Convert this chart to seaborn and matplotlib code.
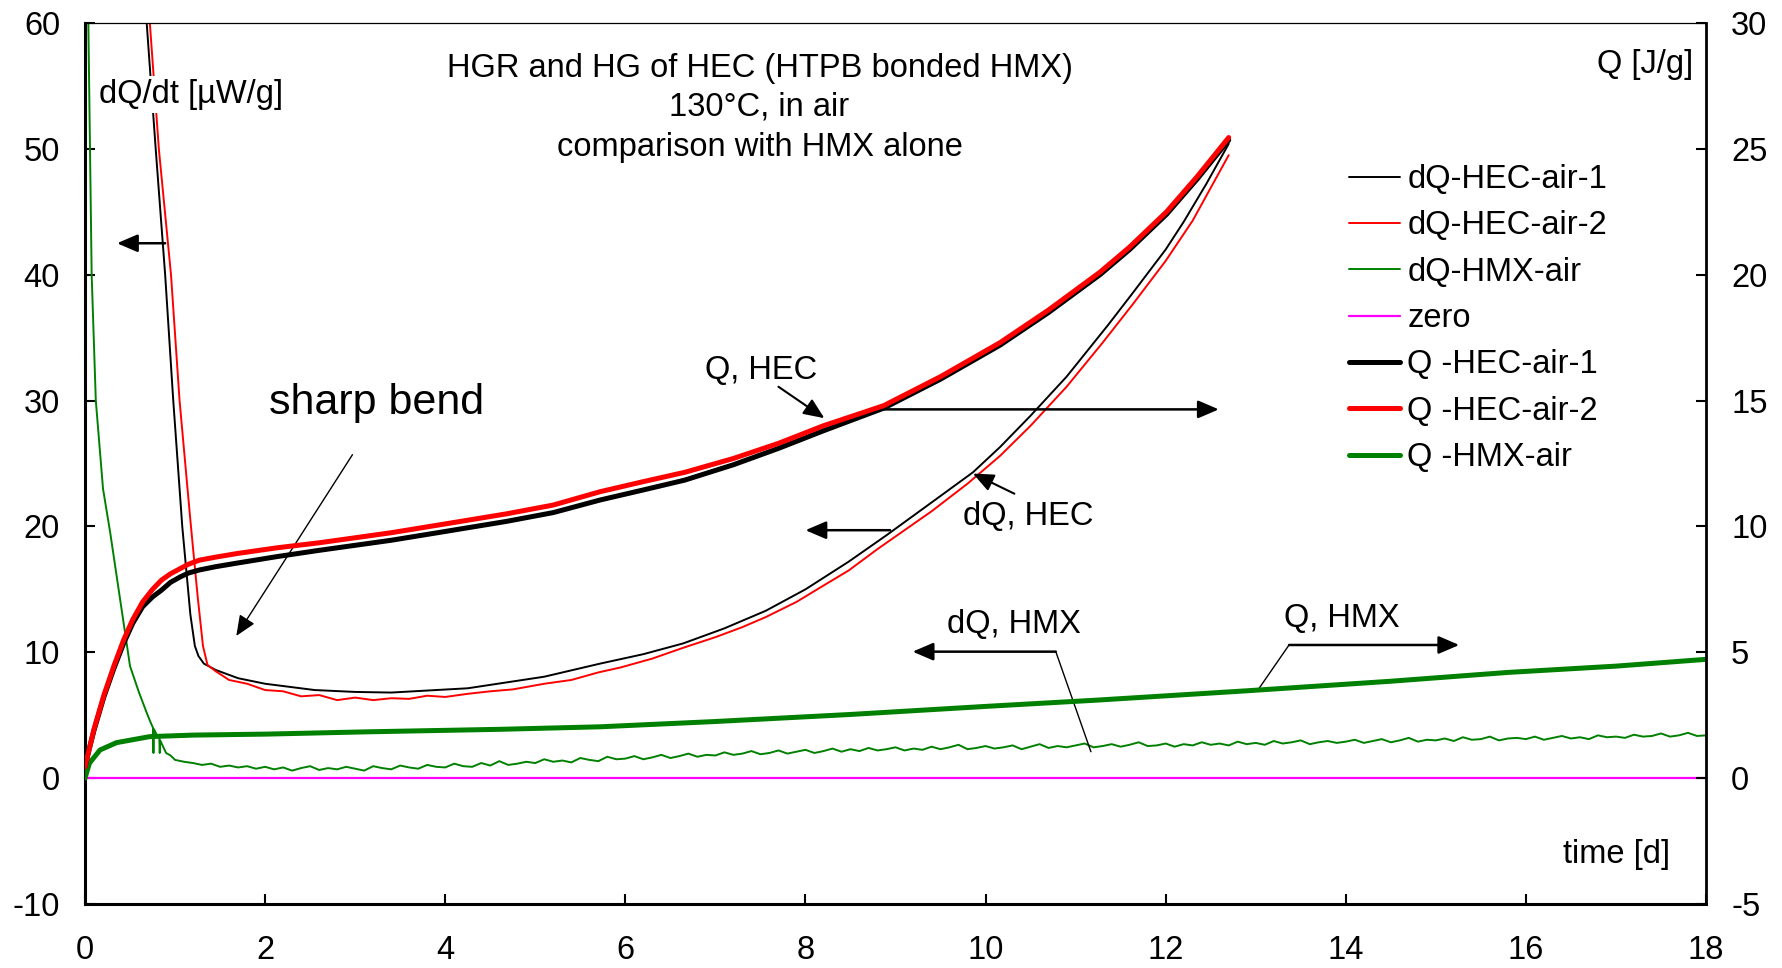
import matplotlib
matplotlib.use("Agg")
import matplotlib.pyplot as plt
import seaborn as sns
import pandas as pd

# ---------------- data ----------------
# dQ/dt of HEC sample 1 [µW/g]
t_dq_hec1 = [0.685, 0.785, 0.89, 0.98, 1.08, 1.17, 1.22, 1.26, 1.32, 1.45, 1.7, 2.0, 2.55, 3.0, 3.4,
             4.25, 5.1, 5.72, 6.2, 6.64, 7.1, 7.56, 8.0, 8.48, 8.9, 9.4, 9.86, 10.16, 10.5, 10.9,
             11.36, 11.64, 12.0, 12.2, 12.45, 12.7]
v_dq_hec1 = [60, 50, 40, 30, 20, 13, 10.5, 9.7, 9.1, 8.6, 7.94, 7.5, 7.0, 6.85, 6.8,
             7.14, 8.06, 9.1, 9.85, 10.7, 11.9, 13.3, 15.0, 17.2, 19.3, 21.9, 24.3, 26.3, 28.8, 31.9,
             36.0, 38.6, 42.0, 44.2, 47.2, 50.4]

# dQ/dt of HEC sample 2 [µW/g]
t_dq_hec2 = [0.72, 0.82, 0.955, 1.05, 1.17, 1.25, 1.31, 1.36, 1.45, 1.6, 1.8, 2.0, 2.2, 2.4, 2.6, 2.8,
             3.0, 3.2, 3.4, 3.6, 3.8, 4.0, 4.25, 4.5, 4.75, 5.1, 5.4, 5.7, 5.95, 6.3, 6.66, 7.0,
             7.3, 7.56, 7.9, 8.2, 8.48, 8.8, 9.1, 9.4, 9.8, 10.16, 10.5, 10.9, 11.3, 11.64, 12.0,
             12.3, 12.7]
v_dq_hec2 = [60, 50, 40, 30, 20.5, 14.5, 10.5, 9.0, 8.5, 7.8, 7.5, 7.0, 6.9, 6.5, 6.6, 6.2,
             6.4, 6.2, 6.35, 6.3, 6.55, 6.45, 6.7, 6.9, 7.05, 7.5, 7.8, 8.4, 8.8, 9.5, 10.4, 11.2,
             12.0, 12.8, 14.0, 15.3, 16.5, 18.2, 19.7, 21.2, 23.4, 25.6, 28.0, 31.1, 34.6, 37.7, 41.1,
             44.3, 49.5]

# dQ/dt of HMX alone [µW/g]
t_dq_hmx = [0.0, 0.037, 0.055, 0.074, 0.12, 0.2, 0.28, 0.39, 0.5, 0.6, 0.685, 0.73, 0.755, 0.76, 0.765,
            0.8, 0.825, 0.83, 0.835, 0.9, 0.95,
            1.0, 1.1, 1.2, 1.3, 1.4, 1.5, 1.6, 1.7, 1.8, 1.9,
            2.0, 2.1, 2.2, 2.3, 2.4, 2.5, 2.6, 2.7, 2.8, 2.9,
            3.0, 3.1, 3.2, 3.3, 3.4, 3.5, 3.6, 3.7, 3.8, 3.9,
            4.0, 4.1, 4.2, 4.3, 4.4, 4.5, 4.6, 4.7, 4.8, 4.9,
            5.0, 5.1, 5.2, 5.3, 5.4, 5.5, 5.6, 5.7, 5.8, 5.9,
            6.0, 6.1, 6.2, 6.3, 6.4, 6.5, 6.6, 6.7, 6.8, 6.9,
            7.0, 7.1, 7.2, 7.3, 7.4, 7.5, 7.6, 7.7, 7.8, 7.9,
            8.0, 8.1, 8.2, 8.3, 8.4, 8.5, 8.6, 8.7, 8.8, 8.9,
            9.0, 9.1, 9.2, 9.3, 9.4, 9.5, 9.6, 9.7, 9.8, 9.9,
            10.0, 10.1, 10.2, 10.3, 10.4, 10.5, 10.6, 10.7, 10.8, 10.9,
            11.0, 11.1, 11.2, 11.3, 11.4, 11.5, 11.6, 11.7, 11.8, 11.9,
            12.0, 12.1, 12.2, 12.3, 12.4, 12.5, 12.6, 12.7, 12.8, 12.9,
            13.0, 13.1, 13.2, 13.3, 13.4, 13.5, 13.6, 13.7, 13.8, 13.9,
            14.0, 14.1, 14.2, 14.3, 14.4, 14.5, 14.6, 14.7, 14.8, 14.9,
            15.0, 15.1, 15.2, 15.3, 15.4, 15.5, 15.6, 15.7, 15.8, 15.9,
            16.0, 16.1, 16.2, 16.3, 16.4, 16.5, 16.6, 16.7, 16.8, 16.9,
            17.0, 17.1, 17.2, 17.3, 17.4, 17.5, 17.6, 17.7, 17.8, 17.9,
            18.0]
v_dq_hmx = [80, 60, 50, 40, 30, 23, 19.5, 14.2, 8.9, 6.8, 5.2, 4.4, 4.0, 2.0, 3.9,
            3.4, 3.2, 2.0, 3.0, 2.0, 1.8,
            1.45, 1.3, 1.2, 1.05, 1.15, 0.9, 1.0, 0.85, 0.95, 0.75,
            0.9, 0.7, 0.85, 0.6, 0.8, 0.95, 0.65, 0.8, 0.7, 0.9,
            0.75, 0.6, 0.95, 0.8, 0.7, 1.0, 0.85, 0.75, 1.05, 0.9,
            0.85, 1.15, 0.95, 0.9, 1.2, 1.0, 1.35, 1.05, 1.15, 1.3,
            1.2, 1.5, 1.3, 1.4, 1.25, 1.6, 1.45, 1.35, 1.7, 1.5,
            1.55, 1.75, 1.5, 1.65, 1.85, 1.6, 1.75, 1.95, 1.7, 1.85,
            1.8, 2.05, 1.85, 1.95, 2.15, 1.9, 2.0, 2.2, 1.95, 2.1,
            2.25, 2.0, 2.15, 2.35, 2.1, 2.3, 2.15, 2.4, 2.2, 2.3,
            2.45, 2.2, 2.35, 2.25, 2.5, 2.3, 2.45, 2.65, 2.3, 2.4,
            2.55, 2.35, 2.45, 2.6, 2.3, 2.5, 2.7, 2.4, 2.55, 2.45,
            2.6, 2.75, 2.45, 2.55, 2.7, 2.5, 2.65, 2.85, 2.55, 2.6,
            2.75, 2.5, 2.7, 2.6, 2.85, 2.65, 2.75, 2.6, 2.9, 2.7,
            2.8, 2.65, 2.95, 2.75, 2.85, 3.0, 2.7, 2.85, 2.95, 2.8,
            2.9, 3.05, 2.8, 2.95, 3.1, 2.85, 3.0, 3.2, 2.9, 3.05,
            3.0, 3.15, 2.95, 3.25, 3.05, 3.1, 3.3, 3.0, 3.15, 3.2,
            3.1, 3.3, 3.05, 3.2, 3.35, 3.15, 3.25, 3.1, 3.4, 3.25,
            3.3, 3.2, 3.45, 3.3, 3.35, 3.55, 3.3, 3.4, 3.6, 3.35,
            3.4]

# zero line
t_zero = [0, 18]
v_zero = [0, 0]

# Q (heat generation) [J/g], right axis
t_q_hec = [0, 0.05, 0.1, 0.21, 0.32, 0.43, 0.53, 0.64, 0.75, 0.85, 0.95, 1.06, 1.15, 1.27, 1.45,
           1.7, 2.13, 2.6, 3.4, 4.0, 4.68, 5.2, 5.72, 6.2, 6.66, 7.2, 7.7, 8.2, 8.87, 9.5, 10.16,
           10.7, 11.27, 11.6, 12.01, 12.35, 12.7]
q_q_hec1 = [0.45, 1.2, 1.9, 3.23, 4.35, 5.36, 6.15, 6.81, 7.2, 7.47, 7.78, 8.0, 8.15, 8.27, 8.4,
            8.55, 8.8, 9.05, 9.45, 9.8, 10.2, 10.55, 11.05, 11.45, 11.84, 12.45, 13.1, 13.8, 14.7,
            15.85, 17.2, 18.5, 20.0, 21.0, 22.4, 23.8, 25.35]
q_q_hec2 = [0.45, 1.2, 1.95, 3.3, 4.45, 5.5, 6.3, 7.0, 7.5, 7.87, 8.12, 8.33, 8.5, 8.66, 8.78,
            8.93, 9.15, 9.35, 9.75, 10.1, 10.5, 10.85, 11.38, 11.78, 12.15, 12.7, 13.3, 14.0, 14.8,
            15.95, 17.3, 18.6, 20.1, 21.1, 22.5, 23.9, 25.45]

t_q_hmx = [0, 0.05, 0.167, 0.35, 0.72, 1.2, 2.02, 3.13, 4.61, 5.72, 7.0, 8.5, 10.0, 11.24, 12.9,
           14.5, 15.8, 17.0, 18.0]
q_q_hmx = [0, 0.6, 1.12, 1.41, 1.65, 1.71, 1.75, 1.84, 1.94, 2.04, 2.25, 2.53, 2.85, 3.10, 3.47,
           3.85, 4.2, 4.45, 4.72]

x_ticks = [0, 2, 4, 6, 8, 10, 12, 14, 16, 18]
y_left_ticks = [-10, 0, 10, 20, 30, 40, 50, 60]
y_right_ticks = [-5, 0, 5, 10, 15, 20, 25, 30]

# ---------------- style ----------------
sns.set_theme(style="white")
plt.rcParams['font.family'] = ['Liberation Sans', 'DejaVu Sans']
plt.rcParams['axes.unicode_minus'] = False
plt.rcParams['text.color'] = 'black'
plt.rcParams['axes.labelcolor'] = 'black'
plt.rcParams['xtick.color'] = 'black'
plt.rcParams['ytick.color'] = 'black'

BLACK, RED, GREEN, MAGENTA = '#000000', '#FF0000', '#008000', '#FF00FF'
FS = 23.5

fig = plt.figure(figsize=(17.82, 9.68), dpi=100)
ax = fig.add_axes([85 / 1782, 64 / 968, 1621 / 1782, 881 / 968])
ax2 = ax.twinx()


def draw(axis, t, v, color, lw, label):
    df = pd.DataFrame({'t': t, 'v': v})
    sns.lineplot(data=df, x='t', y='v', ax=axis, color=color, linewidth=lw,
                 sort=False, estimator=None, label=label, legend=False)


draw(ax, t_zero, v_zero, MAGENTA, 1.6, 'zero')
draw(ax, t_dq_hmx, v_dq_hmx, GREEN, 1.4, 'dQ-HMX-air')
draw(ax, t_dq_hec1, v_dq_hec1, BLACK, 1.4, 'dQ-HEC-air-1')
draw(ax, t_dq_hec2, v_dq_hec2, RED, 1.4, 'dQ-HEC-air-2')
draw(ax2, t_q_hmx, q_q_hmx, GREEN, 3.6, 'Q -HMX-air')
draw(ax2, t_q_hec, q_q_hec1, BLACK, 3.6, 'Q -HEC-air-1')
draw(ax2, t_q_hec, q_q_hec2, RED, 3.6, 'Q -HEC-air-2')

ax.set_xlim(0, 18)
ax.set_ylim(-10, 60)
ax2.set_ylim(-5, 30)
ax.set_xticks(x_ticks)
ax.set_yticks(y_left_ticks)
ax2.set_yticks(y_right_ticks)
ax.set_xlabel('')
ax.set_ylabel('')
ax2.set_ylabel('')

ax.tick_params(axis='y', direction='in', length=7, width=1.5, labelsize=FS, pad=18, left=True)
ax.tick_params(axis='x', direction='in', length=7, width=1.5, labelsize=FS, pad=22, bottom=True)
ax2.tick_params(axis='y', direction='in', length=7, width=1.5, labelsize=FS, pad=18, right=True)

for s in ['left', 'bottom']:
    ax.spines[s].set_linewidth(2.2)
    ax.spines[s].set_color('black')
ax.spines['top'].set_linewidth(0.9)
ax.spines['top'].set_color('black')
ax.spines['right'].set_visible(False)
for s in ['left', 'bottom', 'top']:
    ax2.spines[s].set_visible(False)
ax2.spines['right'].set_linewidth(2.0)
ax2.spines['right'].set_color('black')

# ---------------- texts ----------------
ax.text(7.49, 56.4, 'HGR and HG of HEC (HTPB bonded HMX)', ha='center', va='center', fontsize=FS)
ax.text(7.49, 53.3, '130°C, in air', ha='center', va='center', fontsize=FS)
ax.text(7.49, 50.1, 'comparison with HMX alone', ha='center', va='center', fontsize=FS)

ax.text(0.16, 54.3, 'dQ/dt [µW/g]', ha='left', va='center', fontsize=FS, zorder=5,
        bbox=dict(facecolor='white', edgecolor='none', pad=2))
ax.text(17.86, 56.7, 'Q [J/g]', ha='right', va='center', fontsize=FS)
ax.text(17.6, -6.1, 'time [d]', ha='right', va='center', fontsize=FS)
ax.text(2.04, 29.8, 'sharp bend', ha='left', va='center', fontsize=31)
ax.text(6.88, 32.4, 'Q, HEC', ha='left', va='center', fontsize=FS)
ax.text(9.75, 20.8, 'dQ, HEC', ha='left', va='center', fontsize=FS)
ax.text(9.57, 12.2, 'dQ, HMX', ha='left', va='center', fontsize=FS)
ax.text(13.31, 12.7, 'Q, HMX', ha='left', va='center', fontsize=FS)

# ---------------- arrows ----------------
def arrow(x0, y0, x1, y1, lw=1.8, ms=18):
    ax.annotate('', xy=(x1, y1), xytext=(x0, y0),
                arrowprops=dict(arrowstyle='-|>,head_length=0.7,head_width=0.3', color='black',
                                lw=lw, shrinkA=0, shrinkB=0, mutation_scale=ms))

arrow(0.89, 42.5, 0.355, 42.5)                 # dQ axis pointer (top left)
arrow(2.97, 25.7, 1.68, 11.3, lw=1.0)          # sharp bend
arrow(7.70, 31.1, 8.21, 28.6, lw=1.5)          # Q, HEC
arrow(8.87, 29.3, 12.59, 29.3)                 # Q -> right axis
arrow(10.32, 22.6, 9.86, 24.2, lw=1.5)         # dQ, HEC
arrow(8.94, 19.7, 8.0, 19.7)                   # dQ -> left axis
ax.plot([11.17, 10.78], [2.1, 10.05], color='black', lw=1.0)   # dQ, HMX leader
arrow(10.78, 10.05, 9.19, 10.05)
ax.plot([13.03, 13.37], [7.06, 10.58], color='black', lw=1.0)  # Q, HMX leader
arrow(13.37, 10.58, 15.26, 10.58)

# ---------------- legend ----------------
h1, l1 = ax.get_legend_handles_labels()
h2, l2 = ax2.get_legend_handles_labels()
hd = dict(zip(l1 + l2, h1 + h2))
order = ['dQ-HEC-air-1', 'dQ-HEC-air-2', 'dQ-HMX-air', 'zero',
         'Q -HEC-air-1', 'Q -HEC-air-2', 'Q -HMX-air']
leg = ax2.legend([hd[k] for k in order], order, loc='upper left',
                 bbox_to_anchor=(1349 / 1782, 1 - 164 / 968), bbox_transform=fig.transFigure,
                 frameon=False, fontsize=FS, handlelength=1.57, handletextpad=0.22,
                 labelspacing=0.47, borderpad=0, borderaxespad=0)

fig.savefig('out.png', dpi=100)
